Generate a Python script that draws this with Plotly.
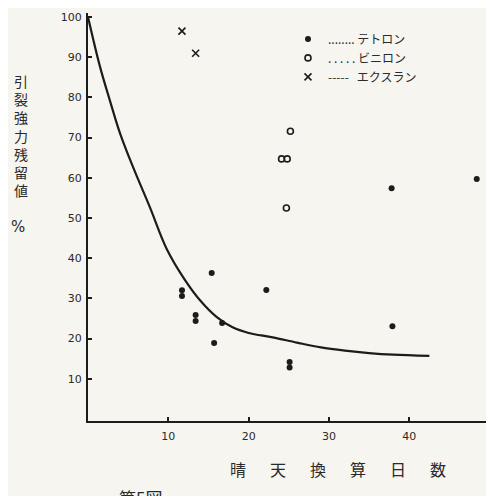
import plotly.graph_objects as go

# ---- data ----
curve_days = [0, 1.5, 2.7, 4.0, 5.6, 7.7, 9.8, 12, 14, 16, 18, 20, 23, 26, 29, 32, 35, 38, 42.5]
curve_vals = [100, 87.6, 79.4, 71.0, 62.7, 52.7, 42.3, 34.8, 29.4, 25.4, 22.8, 21.4, 20.3, 19.0, 17.8, 17.0, 16.4, 16.0, 15.7]

tetoron_days = [11.7, 11.7, 13.4, 13.4, 15.4, 15.7, 16.7, 22.2, 25.1, 25.1, 37.9, 37.8, 48.4]
tetoron_vals = [30.6, 32.0, 24.4, 25.9, 36.3, 18.9, 23.9, 32.1, 12.8, 14.2, 23.1, 57.4, 59.7]

vinylon_days = [25.2, 24.1, 24.8, 24.7]
vinylon_vals = [71.6, 64.7, 64.7, 52.5]

exlan_days = [11.7, 13.4]
exlan_vals = [96.5, 91.0]

x_ticks = [10, 20, 30, 40, 50]
y_ticks = [10, 20, 30, 40, 50, 60, 70, 80, 90, 100]

names = ["........ テトロン", ". . . . . ビニロン", "-----   エクスラン"]

INK = "#1c1c1c"
PAPER = "#f6f5ef"
JP = "Noto Sans CJK JP"

fig = go.Figure()
fig.add_trace(go.Scatter(x=curve_days, y=curve_vals, mode="lines", line=dict(color=INK, width=2.2, shape="spline"),
                         showlegend=False, hoverinfo="skip"))
fig.add_trace(go.Scatter(x=tetoron_days, y=tetoron_vals, mode="markers", name=names[0],
                         marker=dict(symbol="circle", size=6, color=INK)))
fig.add_trace(go.Scatter(x=vinylon_days, y=vinylon_vals, mode="markers", name=names[1],
                         marker=dict(symbol="circle-open", size=6, color=INK, line=dict(width=1.6))))
fig.add_trace(go.Scatter(x=exlan_days, y=exlan_vals, mode="markers", name=names[2],
                         marker=dict(symbol="x-thin-open", size=7, color=INK, line=dict(width=1.6, color=INK))))

fig.update_layout(
    width=486, height=488,
    margin=dict(l=80, r=2, t=5, b=75),
    paper_bgcolor=PAPER, plot_bgcolor=PAPER,
    font=dict(family="DejaVu Sans", color="#2a2a2a", size=11),
    legend=dict(x=0.495, y=0.972, xanchor="left", yanchor="top", bgcolor="rgba(0,0,0,0)",
                font=dict(family=JP, size=12, color="#2a2a2a"), tracegroupgap=0, itemwidth=30),
    xaxis=dict(range=[0, 50.3], tickvals=x_ticks, showgrid=False, zeroline=False,
               showline=True, linecolor=INK, linewidth=2, ticks="inside", ticklen=4, tickwidth=1.5,
               tickcolor=INK, ticklabelstandoff=4, tickfont=dict(size=11)),
    yaxis=dict(range=[-0.5, 101], tickvals=y_ticks, showgrid=False, zeroline=False,
               showline=True, linecolor=INK, linewidth=2, ticks="inside", ticklen=4, tickwidth=1.5,
               tickcolor=INK, ticklabelstandoff=2, tickfont=dict(size=11)),
)

fig.add_annotation(xref="paper", yref="paper", x=0.619, y=-0.118, xanchor="center", yanchor="middle",
                   showarrow=False,
                   text="晴\u3000\u2002天\u3000\u2002換\u3000\u2002算\u3000\u2002日\u3000\u2002数",
                   font=dict(family=JP, size=16, color="#2a2a2a"))
fig.add_annotation(xref="paper", yref="paper", x=-0.166, y=0.699, xanchor="center", yanchor="middle",
                   showarrow=False,
                   text="引<br>裂<br>強<br>力<br>残<br>留<br>値",
                   font=dict(family=JP, size=14, color="#2a2a2a"))
fig.add_annotation(xref="paper", yref="paper", x=-0.173, y=0.475, xanchor="center", yanchor="middle",
                   showarrow=False,
                   text="%", font=dict(family="DejaVu Sans", size=15, color="#2a2a2a"))
fig.add_annotation(xref="paper", yref="paper", x=0.131, y=-0.152, xanchor="center", yanchor="top",
                   showarrow=False,
                   text="第5図", font=dict(family=JP, size=17, color="#2a2a2a"))

fig.write_html("out.html")
